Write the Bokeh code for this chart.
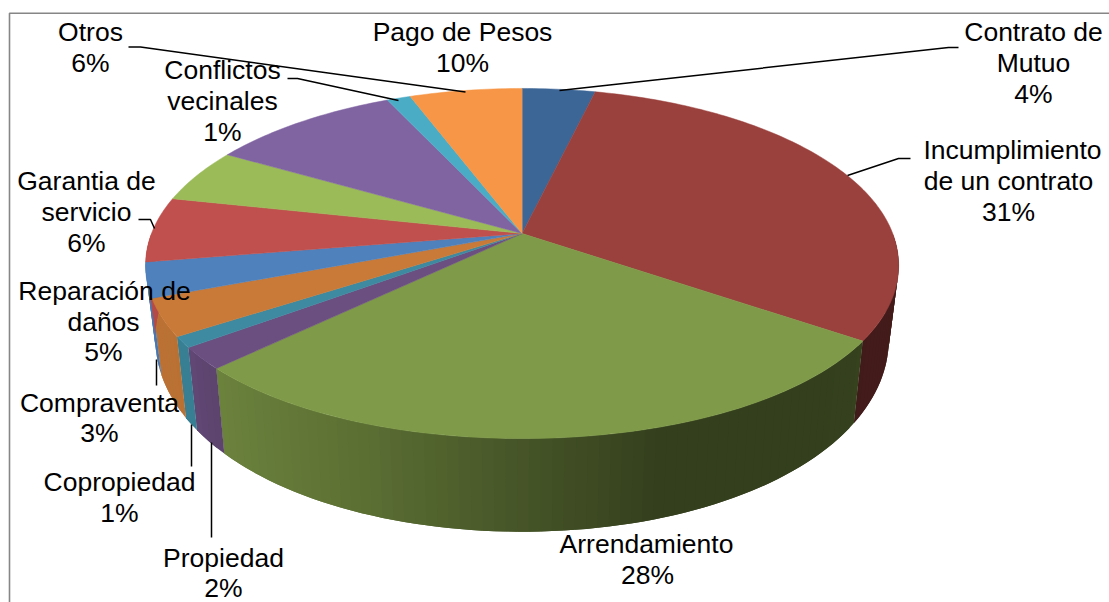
import numpy as np
from bokeh.plotting import figure
from bokeh.models import Range1d
from bokeh.core.properties import value
from bokeh.embed import file_html
from bokeh.resources import INLINE

# ---- data, clockwise from 12 o'clock
categories = ["Contrato de Mutuo", "Incumplimiento de un contrato", "Arrendamiento", "Propiedad",
              "Copropiedad", "(sin rótulo)", "Compraventa", "Garantia de servicio",
              "Reparación de daños", "Pago de Pesos", "Conflictos vecinales", "Otros"]
values = [3.7, 30.9, 28.2, 2.0, 1.0, 3.4, 3.2, 6.0, 5.0, 9.7, 1.2, 5.7]
colors = ["#3c6696", "#9a403d", "#7f9a48", "#6b4f80", "#3e8aa0", "#c97a38",
          "#4f81bd", "#c0504d", "#9bbb59", "#8064a2", "#4bacc6", "#f79646"]

# ---- label text
label_lines = ["Pago de Pesos", "10%", "Otros", "6%", "Conflictos", "vecinales", "1%",
               "Contrato de", "Mutuo", "4%", "Incumplimiento", "de un contrato", "31%",
               "Garantia de", "servicio", "6%", "Reparación de", "daños", "5%",
               "Compraventa", "3%", "Copropiedad", "1%", "Propiedad", "2%", "Arrendamiento", "28%"]

# ---- layout (pixels of the picture)
label_x = [462, 462, 90, 90, 222, 222, 222, 1033, 1033, 1033, 1012, 1008, 1008,
           86, 86, 86, 104, 103, 103, 99, 99, 119, 119, 223, 223, 646, 647]
label_y = [31, 62, 31, 62, 69, 100, 131, 31, 62, 93, 149, 180, 211,
           180, 211, 242, 290, 321, 351, 402, 432, 481, 512, 557, 587, 543, 574]
leaders = [([559, 948, 958], [90, 47, 47]),
           ([847, 898, 910], [175, 158, 158]),
           ([128, 140, 465], [46.5, 46.5, 91.5]),
           ([287, 297, 398], [78, 78, 100]),
           ([138, 150, 154], [219, 219, 228]),
           ([156, 156], [359, 385]),
           ([191, 191], [424, 466]),
           ([211, 211], [442, 537])]
CX, CY, B, A, K = 521.6, 233, 370.6, 169.9, 0.1714
BULGE = 0.008
WALL_SX, WALL_Y0, WALL_Y1, WALL_SY = 0.974, 341, 423, 1.115
shade_x = [140, 190, 225, 370, 500, 600, 670, 820, 900]
shade_f = [0.94, 0.92, 0.84, 0.72, 0.58, 0.48, 0.41, 0.41, 0.44]


def top(theta):
    """Point of the tilted disc at a clockwise angle (radians) from the top."""
    X, Y = np.sin(theta), np.cos(theta)
    r = 1 + BULGE * np.where(Y < 0, (2 * X * Y) ** 2, 0.0)
    X, Y = X * r, Y * r
    w = 1 + K * Y
    return CX + B * X / w, CY - A * Y / w


def bottom(x, y):
    return CX + (x - CX) * WALL_SX, WALL_Y1 + WALL_SY * (y - WALL_Y0)


def darker(hex_color, f):
    r, g, b = (int(hex_color[i:i + 2], 16) for i in (1, 3, 5))
    return "#%02x%02x%02x" % (int(r * f), int(g * f), int(b * f))


edges = np.concatenate([[0], np.cumsum(values)]) / sum(values) * 2 * np.pi

p = figure(width=1109, height=602, x_range=Range1d(0, 1109), y_range=Range1d(602, 0),
           output_backend="svg", toolbar_location=None, min_border=0,
           background_fill_color="white", outline_line_color=None)
p.axis.visible = False
p.grid.visible = False

# frame
p.line([9, 9, 1109], [602, 12.7, 12.7], line_color="#868686", line_width=1.6)

# side wall, in overlapping thin strips so that the shading can vary along it
wx, wy, wc = [], [], []
for i, c in enumerate(colors):
    a0, a1 = edges[i], edges[i + 1]
    lo, hi = max(a0, np.pi / 2), min(a1, 3 * np.pi / 2)
    if hi <= lo:
        continue
    n = max(3, int((hi - lo) / np.radians(1.5)))
    ts = np.linspace(lo, hi, n + 1)
    for j in range(n):
        seg = ts[j:j + 3]
        x, y = top(seg)
        bx, by = bottom(x, y)
        wx.append(list(x) + list(bx[::-1]))
        wy.append(list(y) + list(by[::-1]))
        wc.append(darker(c, float(np.interp(x[0], shade_x, shade_f))))
p.patches(wx, wy, fill_color=wc, line_color=None)

# top face
sx, sy = [], []
for i in range(len(values)):
    ts = np.linspace(edges[i], edges[i + 1], max(3, int((edges[i + 1] - edges[i]) / np.radians(1)) + 1))
    x, y = top(ts)
    sx.append([CX] + list(x))
    sy.append([CY] + list(y))
p.patches(sx, sy, fill_color=colors, line_color=colors, line_width=0.5)

# leader lines
p.multi_line([l[0] for l in leaders], [l[1] for l in leaders], line_color="black", line_width=1.5)

# labels
p.text(label_x, label_y, text=label_lines, text_font=value("Liberation Sans"), text_font_size="26.5px",
       text_color="black", text_align="center", text_baseline="middle")

open("out.html", "w").write(file_html(p, INLINE))
